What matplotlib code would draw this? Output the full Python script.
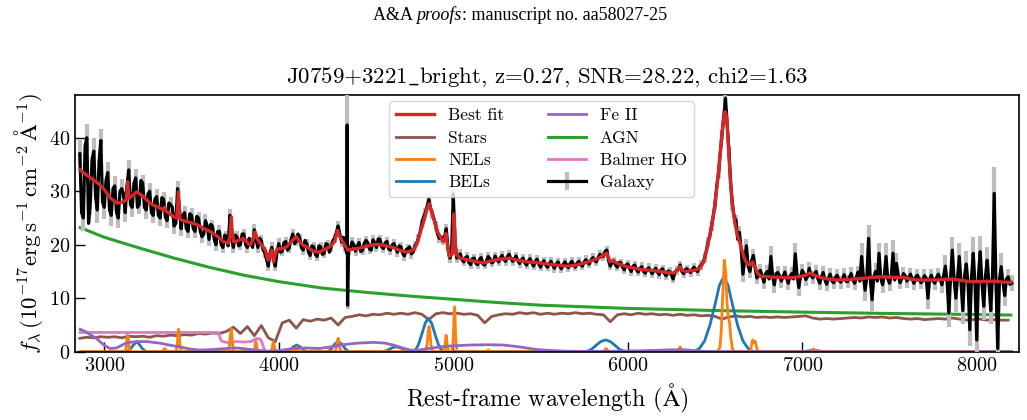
import numpy as np
import matplotlib
matplotlib.use("Agg")
import matplotlib.pyplot as plt
from matplotlib.legend_handler import HandlerTuple

plt.rcParams['font.family'] = ['cmr10', 'DejaVu Serif']
plt.rcParams['mathtext.fontset'] = 'cm'
plt.rcParams['axes.formatter.use_mathtext'] = True

# ---------------- data ----------------
title = r"J0759+3221$\_$bright, z=0.27, SNR=28.22, chi2=1.63"
header_parts = ["A&A ", "proofs", ": manuscript no. aa58027-25"]
xticks = [3000, 4000, 5000, 6000, 7000, 8000]
yticks = [0, 10, 20, 30, 40]

# observed spectrum, even pixels (20 A steps from 2860 A)
gal_start, gal_step = 2860, 20
gal_flux = [
    37.0, 25.0, 40.0, 28.0, 37.5, 26.5, 39.5, 27.0, 33.5, 25.5,   # 2860
    31.0, 25.0, 30.5, 26.0, 34.0, 27.0, 32.5, 27.5, 31.5, 26.5,   # 3060
    30.0, 25.5, 29.0, 25.0, 28.5, 24.5, 27.5, 23.5, 30.5, 23.0,   # 3260
    26.0, 22.5, 25.5, 22.5, 25.0, 21.5, 24.5, 21.0, 23.5, 20.0,   # 3460
    22.5, 19.5, 21.5, 25.5, 19.5, 21.5, 20.0, 22.0, 19.5, 20.5,   # 3660
    22.8, 19.5, 20.8, 18.5, 16.0, 19.5, 16.0, 20.2, 18.8, 20.6,   # 3860
    19.4, 22.0, 20.6, 21.2, 19.0, 20.2, 18.0, 19.6, 17.8, 19.6,   # 4060
    18.4, 20.0, 19.6, 21.2, 23.5, 20.5, 19.6, 19.0, 20.5, 18.8,   # 4260
    20.4, 19.0, 20.8, 19.2, 20.9, 19.5, 21.0, 19.3, 20.6, 19.0,   # 4460
    20.2, 18.6, 19.6, 17.9, 19.3, 18.3, 19.8, 21.2, 24.0, 26.0,   # 4660
    28.5, 25.8, 23.5, 21.2, 20.8, 23.0, 17.5, 29.5, 17.5, 18.3,   # 4860
    16.8, 17.8, 16.3, 17.5, 16.3, 17.6, 16.2, 17.8, 16.6, 17.9,   # 5060
    16.8, 18.0, 16.9, 18.2, 16.9, 17.9, 16.5, 17.5, 16.2, 17.4,   # 5260
    16.0, 17.3, 15.8, 17.0, 15.8, 16.9, 15.6, 16.8, 15.5, 16.8,   # 5460
    15.7, 16.9, 15.8, 16.9, 16.0, 17.2, 16.4, 17.6, 16.8, 18.2,   # 5660
    17.8, 19.0, 16.0, 17.0, 15.8, 16.6, 15.3, 16.4, 15.0, 16.2,   # 5860
    14.9, 15.9, 14.7, 15.7, 14.6, 15.6, 14.4, 15.5, 14.2, 15.0,   # 6060
    13.6, 15.2, 16.2, 14.6, 15.5, 14.8, 15.8, 15.0, 16.2, 17.5,   # 6260
    20.5, 23.5, 27.5, 33.5, 40.5, 47.4, 37.5, 27.5, 24.5, 22.3,   # 6460
    14.5, 19.8, 15.0, 18.0, 13.8, 15.2, 13.0, 15.0, 17.8, 12.5,   # 6660
    14.8, 13.2, 14.9, 12.8, 14.6, 18.3, 12.0, 15.2, 13.5, 15.6,   # 6860
    13.8, 15.0, 12.8, 14.8, 12.6, 14.5, 12.9, 14.3, 13.0, 14.4,   # 7060
    13.1, 14.6, 12.8, 14.9, 17.8, 11.5, 21.2, 9.7, 15.0, 18.4,    # 7260
    12.5, 17.8, 12.8, 18.4, 16.5, 12.9, 14.6, 13.2, 14.5, 12.8,   # 7460
    14.3, 12.9, 14.2, 10.0, 14.3, 12.8, 14.5, 12.5, 16.0, 7.2,    # 7660
    19.0, 10.0, 17.8, 7.7, 16.4, 4.1, 18.4, 2.2, 18.7, 8.5,       # 7860
    17.1, 7.7, 29.6, 0.6, 15.9, 10.5, 14.0, 12.8,                 # 8060
]
# observed spectrum, odd pixels (20 A steps from 2870 A)
gal_mid_start = 2870
gal_mid_flux = [
    26.0, 38.5, 24.0, 36.0, 29.0, 35.5, 28.0, 32.0, 26.5, 30.5,   # 2870
    26.0, 30.0, 29.5, 31.0, 27.5, 31.5, 27.0, 32.0, 27.0, 29.5,   # 3070
    26.0, 28.5, 25.5, 28.8, 25.2, 27.8, 27.0, 24.0, 27.0, 25.5,   # 3270
    23.0, 25.8, 23.0, 25.3, 22.5, 22.0, 23.5, 23.8, 21.0, 22.5,   # 3470
    20.0, 21.8, 19.8, 21.0, 21.8, 19.8, 22.0, 20.0, 21.2, 19.5,   # 3670
    21.0, 21.2, 19.0, 17.2, 18.5, 17.2, 18.6, 18.6, 20.4, 19.0,   # 3870
    21.0, 20.2, 22.0, 19.4, 20.8, 18.6, 19.8, 18.2, 19.8, 18.2,   # 4070
    20.2, 18.6, 20.8, 22.3, 22.0, 21.4, 18.4, 19.2, 20.0, 19.8,   # 4270
    18.7, 20.3, 20.4, 19.0, 20.4, 21.1, 19.6, 20.4, 19.2, 20.0,   # 4470
    19.4, 19.8, 18.4, 19.1, 19.6, 18.6, 20.2, 22.4, 25.2, 27.2,   # 4670
    26.8, 24.8, 22.0, 21.5, 21.5, 19.2, 18.4, 20.5, 17.8, 17.2,   # 4870
    17.6, 16.6, 17.4, 16.5, 17.3, 16.4, 17.0, 17.4, 16.8, 17.2,   # 5070
    17.6, 17.2, 17.8, 17.4, 17.3, 17.0, 17.2, 16.6, 17.0, 16.6,   # 5270
    16.9, 16.4, 16.6, 16.2, 16.5, 16.2, 16.4, 16.0, 16.3, 16.2,   # 5470
    16.5, 16.2, 16.6, 16.3, 16.8, 16.6, 17.2, 17.0, 17.6, 17.8,   # 5670
    18.8, 17.0, 16.8, 16.2, 16.7, 15.8, 16.2, 15.6, 16.0, 15.3,   # 5870
    15.6, 15.0, 15.4, 15.1, 15.2, 14.9, 15.3, 14.6, 15.1, 14.4,   # 6070
    14.9, 15.4, 15.0, 15.4, 15.0, 15.4, 15.2, 15.8, 16.6, 18.8,   # 6270
    21.5, 25.6, 31.0, 37.2, 44.0, 42.5, 31.5, 25.2, 21.0, 19.0,   # 6470
    17.2, 16.0, 17.0, 15.6, 14.8, 14.2, 14.6, 13.6, 14.2, 14.6,   # 6670
    14.2, 14.0, 13.8, 14.2, 13.6, 14.4, 14.0, 14.6, 14.0, 14.2,   # 6870
    14.6, 13.6, 14.0, 13.4, 13.8, 13.2, 13.9, 13.4, 13.5, 13.2,   # 7070
    13.9, 13.4, 13.9, 13.2, 14.2, 14.0, 13.4, 14.0, 13.2, 13.8,   # 7270
    14.2, 13.6, 14.2, 13.4, 14.4, 13.6, 14.2, 13.8, 13.6, 14.0,   # 7470
    13.6, 13.2, 13.8, 13.6, 13.2, 13.9, 13.6, 14.2, 13.0, 14.0,   # 7670
    13.6, 14.0, 12.6, 14.2, 12.8, 14.0, 12.5, 14.4, 12.6, 14.2,   # 7870
    12.8, 14.0, 13.0, 13.4, 13.0, 13.6, 12.6,                     # 8070
]
gal_err = [
    2.5, 2.5, 2.5, 2.5, 2.5, 2.5, 2.2, 2.2, 2.0, 2.0,
    1.8, 1.8, 1.8, 1.8, 1.8, 1.8, 1.7, 1.7, 1.6, 1.6,
    1.5, 1.5, 1.5, 1.5, 1.4, 1.4, 1.4, 1.4, 1.4, 1.3,
    1.3, 1.3, 1.3, 1.3, 1.2, 1.2, 1.2, 1.2, 1.1, 1.1,
    1.1, 1.1, 1.1, 1.1, 1.0, 1.0, 1.0, 1.0, 1.0, 1.0,
    1.0, 1.0, 1.0, 1.0, 1.0, 1.0, 1.0, 1.0, 0.9, 0.9,
    0.9, 0.9, 0.9, 0.9, 0.9, 0.9, 0.9, 0.9, 0.9, 0.9,
    0.9, 0.9, 0.9, 0.9, 0.9, 0.9, 0.9, 0.9, 0.9, 0.9,
    0.9, 0.9, 0.9, 0.9, 0.9, 0.9, 0.9, 0.9, 0.9, 0.9,
    0.9, 0.9, 0.9, 0.9, 0.9, 0.9, 0.9, 0.9, 0.9, 0.9,
    0.9, 0.9, 0.9, 0.9, 0.9, 0.9, 0.9, 0.9, 0.9, 0.9,
    0.8, 0.8, 0.8, 0.8, 0.8, 0.8, 0.8, 0.8, 0.8, 0.8,
    0.8, 0.8, 0.8, 0.8, 0.8, 0.8, 0.8, 0.8, 0.8, 0.8,
    0.8, 0.8, 0.8, 0.8, 0.8, 0.8, 0.8, 0.8, 0.8, 0.8,
    0.8, 0.8, 0.8, 0.8, 0.8, 0.8, 0.8, 0.8, 0.8, 0.8,
    0.8, 0.8, 0.8, 0.8, 0.8, 0.8, 0.8, 0.8, 0.8, 0.8,
    0.8, 0.8, 0.8, 0.8, 0.8, 0.8, 0.8, 0.8, 0.8, 0.8,
    0.8, 0.8, 0.8, 0.8, 0.8, 0.8, 0.8, 0.8, 0.9, 0.9,
    1.0, 1.0, 1.0, 1.0, 1.0, 1.0, 1.0, 1.0, 1.0, 1.2,
    1.5, 1.2, 1.2, 1.2, 1.2, 1.2, 1.2, 1.2, 2.0, 1.5,
    1.2, 1.2, 1.2, 1.2, 1.2, 2.0, 1.5, 1.2, 1.2, 1.2,
    1.2, 1.2, 1.2, 1.2, 1.2, 1.2, 1.2, 1.2, 1.2, 1.2,
    1.2, 1.2, 1.2, 1.2, 2.5, 2.0, 2.5, 2.0, 1.5, 2.0,
    1.5, 2.5, 1.5, 2.5, 2.0, 1.2, 1.2, 1.2, 1.2, 1.2,
    1.2, 1.2, 1.2, 2.0, 1.2, 1.2, 1.2, 1.5, 2.0, 2.5,
    2.5, 2.5, 2.5, 2.5, 2.5, 3.0, 3.0, 3.0, 3.0, 2.5,
    2.5, 2.5, 5.0, 3.0, 2.5, 2.0, 1.5, 1.5,
]
# two adjacent bad pixels near 4393 A
bad_wave = [4392, 4394]
bad_flux = [42.4, 8.7]
bad_err = [12.0, 0.8]

# best-fit model
fit_wave = [
    2862, 2880, 2900, 2918, 2940, 2975, 3000, 3033, 3071, 3109,
    3125, 3130, 3134, 3138, 3143, 3165, 3186, 3224, 3255, 3281,
    3310, 3338, 3346, 3352, 3375, 3395, 3416, 3421, 3425, 3429,
    3434, 3444, 3475, 3510, 3540, 3567, 3600, 3625, 3655, 3682,
    3711, 3720, 3724, 3728, 3732, 3740, 3760, 3797, 3835, 3850,
    3864, 3878, 3892, 3911, 3925, 3935, 3940, 3950, 3959, 3965,
    3970, 3978, 3990, 4020, 4045, 4083, 4102, 4120, 4140, 4170,
    4198, 4230, 4274, 4300, 4320, 4337, 4350, 4360, 4380, 4398,
    4430, 4465, 4500, 4530, 4561, 4600, 4630, 4656, 4690, 4733,
    4771, 4790, 4809, 4830, 4848, 4861, 4876, 4895, 4914, 4943,
    4952, 4958, 4964, 4977, 4995, 5000, 5005, 5010, 5015, 5038,
    5080, 5134, 5175, 5229, 5270, 5325, 5370, 5421, 5470, 5516,
    5560, 5593, 5650, 5707, 5750, 5802, 5840, 5879, 5890, 5898,
    5910, 5950, 5994, 6040, 6089, 6140, 6185, 6230, 6261, 6285,
    6299, 6312, 6337, 6380, 6414, 6435, 6452, 6470, 6490, 6505,
    6519, 6530, 6538, 6548, 6557, 6566, 6573, 6580, 6588, 6595,
    6605, 6614, 6628, 6643, 6658, 6672, 6686, 6700, 6708, 6716,
    6724, 6731, 6739, 6758, 6800, 6860, 6930, 6980, 7020, 7044,
    7070, 7100, 7150, 7197, 7260, 7343, 7400, 7464, 7520, 7579,
    7620, 7656, 7710, 7770, 7847, 7900, 7961, 8037, 8100, 8150,
    8195,
]
fit_flux = [
    34.0, 33.5, 33.0, 32.6, 32.1, 31.2, 30.3, 28.8, 27.8, 28.0,
    28.4, 29.8, 31.8, 29.8, 28.7, 29.3, 29.9, 29.0, 28.0, 27.4,
    27.0, 26.5, 27.0, 26.3, 25.8, 25.3, 25.0, 27.5, 29.9, 27.5,
    24.9, 24.6, 24.3, 24.0, 23.6, 23.1, 22.6, 22.1, 21.4, 20.6,
    20.3, 21.5, 23.5, 25.2, 23.0, 20.6, 20.7, 21.2, 19.9, 20.8,
    22.4, 21.0, 20.3, 19.6, 18.8, 17.5, 17.1, 18.2, 19.0, 18.0,
    16.8, 18.0, 19.2, 19.3, 19.6, 21.0, 21.5, 20.5, 19.9, 19.4,
    18.8, 18.6, 19.3, 19.8, 20.6, 22.7, 21.5, 20.9, 19.8, 19.0,
    19.2, 19.4, 19.7, 19.9, 20.1, 19.9, 19.7, 19.5, 19.0, 18.6,
    19.0, 20.0, 22.1, 24.3, 26.5, 27.7, 26.2, 24.0, 22.1, 20.6,
    21.0, 22.1, 20.5, 17.8, 18.3, 21.5, 25.8, 21.5, 18.3, 17.5,
    17.2, 16.8, 16.6, 17.1, 17.3, 17.5, 17.1, 16.8, 16.7, 16.5,
    16.3, 16.2, 16.0, 16.2, 16.6, 17.1, 17.6, 18.4, 17.6, 16.8,
    17.0, 16.4, 15.9, 15.6, 15.3, 15.2, 15.0, 14.8, 14.7, 15.2,
    15.9, 15.2, 15.0, 15.2, 15.6, 16.8, 19.0, 21.8, 25.2, 29.0,
    33.3, 37.0, 40.2, 43.2, 44.9, 44.0, 40.5, 36.4, 32.0, 29.0,
    26.0, 24.0, 21.8, 20.3, 18.5, 17.1, 16.5, 16.2, 16.5, 16.8,
    16.0, 15.8, 15.0, 14.1, 14.0, 13.9, 13.8, 14.0, 14.3, 14.7,
    14.3, 13.9, 13.6, 13.4, 13.5, 13.7, 13.9, 14.0, 13.9, 13.9,
    13.6, 13.4, 13.4, 13.4, 13.6, 13.4, 13.1, 13.1, 13.2, 13.0,
    13.0,
]

# stellar component (40 A steps from 2860 A)
star_start, star_step = 2860, 40
star_flux = [
    2.5, 2.7, 2.6, 2.8, 2.7, 2.8, 2.6, 2.9, 2.8, 2.9,
    2.7, 3.0, 2.9, 3.1, 3.0, 3.2, 3.1, 3.4, 3.3, 3.5,
    3.4, 3.8, 4.6, 3.4, 4.7, 3.0, 4.9, 2.6, 1.9, 5.4,
    5.9, 4.4, 6.0, 5.7, 6.1, 5.9, 6.3, 5.0, 6.4, 6.6,
    6.9, 6.7, 7.0, 6.9, 7.2, 7.0, 7.2, 7.0, 7.3, 7.0,
    6.0, 7.1, 7.3, 7.1, 7.2, 7.0, 7.1, 6.8, 5.4, 6.6,
    6.9, 7.1, 7.0, 7.3, 7.1, 7.3, 7.0, 7.2, 7.0, 7.2,
    7.1, 7.3, 7.1, 7.2, 7.0, 6.9, 5.6, 6.9, 7.1, 6.9,
    7.2, 7.0, 7.1, 6.9, 7.0, 6.8, 7.0, 6.8, 6.9, 6.7,
    6.8, 6.6, 6.1, 6.5, 6.7, 6.5, 6.6, 6.4, 6.5, 6.4,
    6.5, 6.4, 6.5, 6.6, 6.7, 6.3, 6.1, 6.2, 6.1, 6.2,
    6.3, 6.4, 6.3, 6.5, 6.4, 6.5, 6.3, 6.4, 6.2, 6.1,
    6.2, 6.0, 6.1, 6.2, 6.1, 6.3, 6.1, 5.9, 6.0, 6.1,
    5.9, 6.0, 5.9, 5.9,
]

# narrow emission lines
nel_wave = [2862, 3118, 3126, 3130, 3134, 3138, 3142, 3150,
            3330, 3340, 3346, 3352, 3362,
            3410, 3418, 3422, 3426, 3430, 3434, 3442,
            3710, 3718, 3723, 3727, 3731, 3736, 3744,
            3855, 3862, 3866, 3869, 3872, 3876, 3883,
            3955, 3962, 3966, 3969, 3972, 3976, 3983,
            4088, 4096, 4102, 4108, 4116,
            4322, 4330, 4336, 4340, 4344, 4350, 4358,
            4840, 4850, 4856, 4861, 4866, 4872, 4882,
            4945, 4952, 4956, 4959, 4962, 4966, 4973,
            4992, 5000, 5004, 5007, 5010, 5014, 5022,
            5185, 5195, 5200, 5205, 5215,
            5862, 5870, 5876, 5882, 5890,
            6286, 6294, 6300, 6306, 6314,
            6515, 6528, 6536, 6545, 6553, 6561, 6569, 6576, 6583, 6591, 6600, 6612,
            6702, 6709, 6716, 6723, 6731, 6738, 6748,
            7052, 7060, 7065, 7070, 7078, 8200]
nel_flux = [0, 0, 0.8, 2.4, 3.2, 2.4, 0.8, 0,
            0, 0.3, 0.6, 0.3, 0,
            0, 1.1, 3.2, 4.2, 3.2, 1.1, 0,
            0, 1.2, 3.2, 4.3, 3.2, 1.2, 0,
            0, 0.6, 1.5, 1.9, 1.5, 0.6, 0,
            0, 0.6, 1.5, 1.9, 1.5, 0.6, 0,
            0, 0.5, 0.9, 0.5, 0,
            0, 0.7, 2.0, 2.5, 2.0, 0.7, 0,
            0, 1.3, 3.7, 4.7, 3.7, 1.3, 0,
            0, 0.8, 2.4, 3.1, 2.4, 0.8, 0,
            0, 2.2, 6.6, 8.4, 6.6, 2.2, 0,
            0, 0.2, 0.35, 0.2, 0,
            0, 0.4, 0.6, 0.4, 0,
            0, 0.5, 0.9, 0.5, 0,
            0, 0.8, 4.0, 11.0, 17.1, 15.0, 9.0, 6.5, 5.5, 2.5, 0.5, 0,
            0, 1.2, 2.2, 1.7, 1.9, 0.8, 0,
            0, 0.35, 0.5, 0.35, 0, 0]

# broad emission lines
bel_wave = [2862, 3130, 3150, 3165, 3186, 3205, 3220, 3242,
            4045, 4065, 4083, 4103, 4123, 4141, 4160,
            4280, 4300, 4320, 4341, 4362, 4382, 4402,
            4600, 4625, 4650, 4672, 4695, 4720, 4745,
            4770, 4785, 4800, 4820, 4840, 4857, 4875, 4895, 4915, 4930, 4950,
            5760, 5790, 5815, 5845, 5873, 5900, 5930, 5955, 5985,
            6380, 6410, 6440, 6470, 6500, 6525, 6550, 6575, 6600, 6630, 6660, 6690, 6720,
            7000, 7035, 7065, 7095, 7130, 8200]
bel_flux = [0, 0, 0.5, 1.2, 1.9, 1.2, 0.5, 0,
            0, 0.35, 0.9, 1.25, 0.9, 0.35, 0,
            0, 0.5, 1.4, 1.9, 1.4, 0.5, 0,
            0, 0.3, 0.75, 0.9, 0.75, 0.3, 0,
            0, 0.4, 1.3, 3.3, 5.4, 6.2, 5.4, 3.3, 1.3, 0.4, 0,
            0, 0.4, 1.1, 1.9, 2.2, 1.9, 1.1, 0.4, 0,
            0, 0.6, 2.0, 4.9, 8.8, 12.4, 14.0, 12.4, 8.8, 4.9, 2.0, 0.6, 0,
            0, 0.15, 0.3, 0.15, 0, 0]

# Fe II pseudo-continuum
fe_wave = [2862, 2890, 2918, 2950, 2975, 3000, 3033, 3070, 3100, 3130,
           3190, 3243, 3318, 3380, 3434, 3490, 3549, 3620, 3700, 3760,
           3816, 3870, 3930, 4000, 4083, 4150, 4230, 4300, 4351, 4450,
           4542, 4610, 4656, 4710, 4752, 4800, 4860, 4924, 5000, 5096,
           5200, 5287, 5380, 5478, 5550, 5650, 5800, 5950, 6100, 6250,
           6330, 6420, 6500, 8200]
fe_flux = [4.2, 3.8, 3.2, 2.6, 1.9, 1.2, 0.6, 0.7, 1.2, 1.7,
           1.9, 1.9, 1.6, 1.2, 0.9, 0.5, 0.3, 0.4, 0.6, 0.7,
           0.5, 0.3, 0.1, 0.2, 0.6, 0.7, 0.6, 0.9, 1.25, 1.6,
           1.75, 1.6, 1.25, 0.7, 0.3, 0.3, 0.6, 0.9, 1.1, 1.25,
           1.3, 1.25, 0.9, 0.4, 0.25, 0.1, 0.05, 0.1, 0.2, 0.35,
           0.35, 0.1, 0.0, 0.0]

# AGN power-law continuum
agn_wave = [2862, 3000, 3200, 3400, 3600, 3800, 4000, 4250, 4500, 4750,
            5000, 5250, 5500, 6000, 6500, 7000, 7500, 8000, 8195]
agn_flux = [23.2, 21.4, 19.4, 17.5, 15.8, 14.3, 13.1, 11.9, 11.1, 10.4,
            9.8, 9.2, 8.7, 8.1, 7.7, 7.4, 7.15, 6.95, 6.85]

# Balmer high-order lines / pseudo-continuum
bho_wave = [2862, 3655, 3663, 3672, 3690, 3720, 3760, 3800, 3840, 3873,
            3895, 3905, 3915, 3925, 8200]
bho_flux = [3.6, 3.6, 2.6, 2.0, 1.8, 1.7, 1.9, 1.8, 1.9, 2.5,
            2.3, 1.6, 0.6, 0.0, 0.0]

# ---------------- build ----------------
gal_wave = gal_start + gal_step * np.arange(len(gal_flux))
gal_mid_wave = gal_mid_start + gal_step * np.arange(len(gal_mid_flux))
star_wave = star_start + star_step * np.arange(len(star_flux))
assert len(gal_err) == len(gal_flux), (len(gal_err), len(gal_flux))
assert len(gal_mid_flux) == len(gal_flux) - 1, len(gal_mid_flux)
assert len(fit_wave) == len(fit_flux), (len(fit_wave), len(fit_flux))
assert len(nel_wave) == len(nel_flux), (len(nel_wave), len(nel_flux))
assert len(bel_wave) == len(bel_flux), (len(bel_wave), len(bel_flux))
assert len(fe_wave) == len(fe_flux), (len(fe_wave), len(fe_flux))
assert len(bho_wave) == len(bho_flux)

# pixels carrying error bars
ew = np.concatenate([gal_wave, bad_wave])
ef = np.concatenate([gal_flux, bad_flux])
ee = np.concatenate([gal_err, bad_err])
# all pixels for the black line
aw = np.concatenate([gal_wave, gal_mid_wave, bad_wave])
af = np.concatenate([gal_flux, gal_mid_flux, bad_flux])
o = np.argsort(aw, kind='stable')
aw, af = aw[o], af[o]

fig = plt.figure(figsize=(10.27, 4.2), dpi=100)
ax = fig.add_axes([0.0730, 0.1626, 0.9192, 0.6112])

h_agn, = ax.plot(agn_wave, agn_flux, color='#2ca02c', lw=2.2, zorder=2.0)
h_star, = ax.plot(star_wave, star_flux, color='#8c564b', lw=2.0, zorder=2.05)
h_bho, = ax.plot(bho_wave, bho_flux, color='#e377c2', lw=2.0, zorder=2.1)
h_bel, = ax.plot(bel_wave, bel_flux, color='#1f77b4', lw=2.0, zorder=2.15)
h_nel, = ax.plot(nel_wave, nel_flux, color='#ff7f0e', lw=2.0, zorder=2.2)
h_fe, = ax.plot(fe_wave, fe_flux, color='#9467bd', lw=2.0, zorder=2.3)
h_err = ax.errorbar(ew, ef, yerr=ee, fmt='none', ecolor='0.74', elinewidth=3.0, zorder=2.9)
h_gal, = ax.plot(aw, af, color='k', lw=2.3, zorder=3)
h_fit, = ax.plot(fit_wave, fit_flux, color='#d62728', lw=2.4, zorder=4)

ax.set_xlim(2832, 8242)
ax.set_ylim(0, 48)
ax.set_xticks(xticks)
ax.set_yticks(yticks)
ax.tick_params(direction='in', length=7, width=1.0, labelsize=14.5, top=False, right=False)
for s in ax.spines.values():
    s.set_linewidth(1.2)

ax.set_xlabel('Rest-frame wavelength ($\\mathrm{\\AA}$)', fontsize=17.2, labelpad=5)
ax.set_ylabel(r'$f_\lambda\,(10^{-17}{\rm erg\,s^{-1}\,cm^{-2}\,\AA^{-1}})$', fontsize=16.5, labelpad=3)
ax.set_title(title, fontsize=16.5, pad=9)

handles = [h_fit, h_star, h_nel, h_bel, h_fe, h_agn, h_bho, (h_err, h_gal)]
labels = ['Best fit', 'Stars', 'NELs', 'BELs', 'Fe II', 'AGN', 'Balmer HO', 'Galaxy']
ax.legend(handles, labels, loc='upper center', bbox_to_anchor=(0.494, 1.0), ncol=2,
          fontsize=12.5, framealpha=0.8, labelspacing=0.4, borderaxespad=0.35,
          columnspacing=2.5, handlelength=2.2,
          handler_map={tuple: HandlerTuple(ndivide=1)})

# header line
renderer = fig.canvas.get_renderer()
fonts = [dict(family='Liberation Serif', style='normal'),
         dict(family='Liberation Serif', style='italic'),
         dict(family='Liberation Serif', style='normal')]
texts = []
for part, fp in zip(header_parts, fonts):
    texts.append(fig.text(0, 1 - 15 / 420, part, fontsize=13, va='center', ha='left', **fp))
widths = [t.get_window_extent(renderer).width for t in texts]
x0 = 520 - sum(widths) / 2
for t, w in zip(texts, widths):
    t.set_x(x0 / 1027)
    x0 += w

fig.savefig('out.png', dpi=100)
